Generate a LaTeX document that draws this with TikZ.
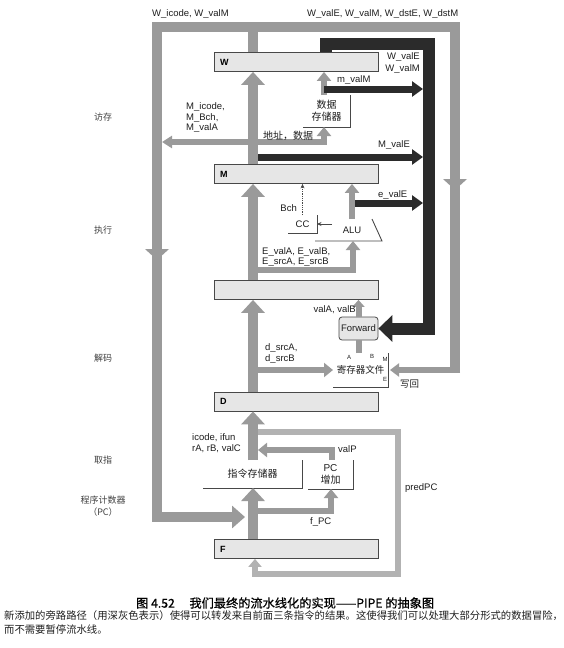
\documentclass[tikz,border=0pt]{standalone}
\usepackage{fontspec}
\setmainfont{Liberation Sans}
\newfontfamily\cjk{Noto Sans CJK SC}
\newfontfamily\cjkt[FakeBold=0.8]{Noto Sans CJK SC}
\usetikzlibrary{arrows.meta}
\definecolor{gA}{HTML}{9A9A9A}
\definecolor{gL}{HTML}{B2B2B2}
\definecolor{dk}{HTML}{2B2B2B}
\definecolor{bd}{HTML}{484848}
\definecolor{rf}{HTML}{E6E6E6}
\definecolor{tx}{HTML}{1E1E1E}
\begin{document}
\begin{tikzpicture}[x=1pt,y=-1pt,
 lbl/.style={font=\fontsize{9.5}{11}\selectfont, text=tx, inner sep=0pt},
 zh/.style={font=\cjk\fontsize{10}{12}\selectfont, text=tx, inner sep=0pt, align=center},
 side/.style={font=\cjk\fontsize{9}{11}\selectfont, text=tx!85, inner sep=0pt},
 tinyl/.style={font=\fontsize{6}{7}\selectfont, text=tx, inner sep=0pt},
 preg/.style={draw=bd, line width=0.8pt, fill=rf, minimum width=164pt, minimum height=19pt, text width=152pt, align=left, inner sep=0pt, font=\bfseries\fontsize{9}{10}\selectfont},
 unitbox/.style={inner sep=0pt, outer sep=0pt},
 lshape/.style={draw=bd, line width=0.9pt},
 gline/.style={draw=gA, line width=10pt},
 gbig/.style={draw=gA, line width=10pt, -{Triangle[width=23pt,length=13pt]}},
 gmid/.style={draw=gA, line width=6.5pt, -{Triangle[width=14pt,length=9pt]}},
 gsmall/.style={draw=gA, line width=6pt, -{Triangle[width=12pt,length=7pt]}},
 dkarrow/.style={draw=dk, line width=7pt, -{Triangle[width=15pt,length=11pt]}},
 thinarrow/.style={draw=bd, line width=0.8pt, -{Stealth[length=4.5pt,width=4pt]}},
]
\useasboundingbox (0,0) rectangle (564,648);

% pipeline registers
\node[preg] (W) at (296,62) {W};
\node[preg] (M) at (296,174) {M};
\node[preg] (E) at (296,290) {};
\node[preg] (D) at (296,401.5) {D};
\node[preg] (F) at (296,549) {F};

% units
\node[unitbox, zh, minimum width=47pt, minimum height=32pt] (dmem) at (326.5,111) {数据\\存储器};
\node[unitbox, lbl, minimum width=29pt, minimum height=18pt] (CC) at (302.5,224) {CC};
\node[unitbox, lbl, minimum width=67pt, minimum height=22pt] (alu) at (348.5,230) {\hspace{7pt}ALU};
\node[unitbox, zh, font=\cjk\fontsize{9.5}{11}\selectfont, minimum width=55pt, minimum height=34pt] (regfile) at (360.5,370) {寄存器文件};
\node[unitbox, zh, minimum width=99pt, minimum height=28pt] (imem) at (252.5,474) {指令存储器};
\node[unitbox, zh, minimum width=45pt, minimum height=29pt] (pcinc) at (330.5,474.5) {{\normalfont PC}\\增加};
\node[draw=bd, fill=rf, rounded corners=3pt, line width=0.8pt, minimum width=39pt, minimum height=23pt, inner sep=0pt, lbl] (Fwd) at (358.5,328.5) {Forward};

\draw[lshape] (dmem.north east) -- (dmem.south east) -- (dmem.south west);
\draw[lshape] (CC.north east) -- (CC.south east) -- (CC.south west);
\draw[lshape] (regfile.north east) -- (regfile.south east) -- (regfile.south west);
\draw[lshape] (imem.north east) -- (imem.south east) -- (imem.south west);
\draw[lshape] (pcinc.north east) -- (pcinc.south east) -- (pcinc.south west);
\draw[lshape] (alu.south west) -- (alu.south east) -- ([xshift=-10pt]alu.north east);

% coordinates
\coordinate (cx) at (253,0);
\coordinate (topL) at (157,27);
\coordinate (topJ) at (253,27);
\coordinate (topJb) at (248,27);
\coordinate (topR) at (455,27);
\coordinate (leftB) at (157,517);
\coordinate (pcsel) at (245,517);
\coordinate (wbV) at (455,373);
\coordinate (wbH) at (460,370);

% write-back / W loop
\draw[gbig, -{Triangle[width=22pt,length=13pt]}] (cx |- W.north) -- (topJ) -- (topL) -- (leftB) -- (pcsel);
\draw[gline] (topJb) -- (topR) -- (wbV);
\draw[draw=gA, line width=6pt, -{Triangle[width=13pt,length=9pt]}] (wbH) -- ([xshift=2pt]regfile.east);
\fill[gA] (145,249) -- (169,249) -- (157,260) -- cycle;
\fill[gA] (443,179) -- (467,179) -- (455,190) -- cycle;

% forwarding loop
\coordinate (dkL) at (326,44);
\coordinate (dkR) at (429,44);
\draw[draw=dk, line width=12pt, -{Triangle[width=26pt,length=14pt]}] (dkL |- W.north) -- (dkL) -- (dkR) -- (dkR |- Fwd.east) -- (Fwd.east);

% main stage arrows
\draw[gbig] (cx |- M.north) -- (cx |- W.south);
\draw[gbig] (cx |- E.north) -- (cx |- M.south);
\draw[gbig] (cx |- D.north) -- (cx |- E.south);
\draw[gbig] (cx |- imem.north) -- (cx |- D.south);
\draw[gbig] (cx |- F.north) -- (cx |- imem.south);

% memory stage
\coordinate (mA) at (253,142);
\coordinate (mL) at (162,142);
\coordinate (mD) at (324,142);
\draw[gmid, -{Triangle[width=12pt,length=10pt]}] (mA) -- (mL);
\draw[gmid] (mA) -- (mD) -- (mD |- dmem.south);
\draw[gmid] (mD |- dmem.north) -- (mD |- W.south);

% execute stage
\coordinate (eA) at (253,270);
\coordinate (eB) at (353,270);
\coordinate (aluo) at (352,0);
\draw[gmid] (eA) -- (eB) -- (eB |- alu.south);
\draw[gmid] (aluo |- alu.north) -- (aluo |- M.south);
\coordinate (ccin) at (332,224);
\draw[thinarrow] (ccin) -- (CC.east);
\draw[thinarrow, densely dotted] (CC.north) -- (CC.north |- M.south);

% dark bypass arrows
\coordinate (dkin) at (423,0);
\coordinate (mvm) at (324,89);
\coordinate (mve) at (258,157);
\coordinate (eve) at (355,203);
\draw[dkarrow] (mvm) -- (dkin |- mvm);
\draw[dkarrow] (mve) -- (dkin |- mve);
\draw[dkarrow] (eve) -- (dkin |- eve);

% decode stage
\coordinate (dS) at (253,370);
\draw[gmid] (dS) -- (regfile.west);
\draw[draw=gA, line width=6pt] (Fwd.south |- regfile.north) -- (Fwd.south);
\draw[gsmall] (Fwd.north) -- (Fwd.north |- E.south);

% fetch stage
\coordinate (vp) at (332,450);
\coordinate (vpe) at (258,450);
\draw[gmid] (vp |- pcinc.north) -- (vp) -- (vpe);
\coordinate (fp) at (253,511);
\coordinate (fpr) at (331,511);
\draw[gmid] (fp) -- (fpr) -- (fpr |- pcinc.south);
\coordinate (pp1) at (258,432);
\coordinate (pp2) at (398,432);
\coordinate (pp3) at (398,574);
\coordinate (pp4) at (255,574);
\draw[draw=gL, line width=6pt, -{Triangle[width=13pt,length=8pt]}] (pp1) -- (pp2) -- (pp3) -- (pp4) -- (pp4 |- F.south);

% labels
\node[lbl, anchor=west] (l1) at (152,14) {W\_icode, W\_valM};
\node[lbl, anchor=west] (l2) at (307,14) {W\_valE, W\_valM, W\_dstE, W\_dstM};
\node[lbl, anchor=east] (l3) at (420,57) {W\_valE};
\node[lbl, anchor=east] (l4) at (420,69) {W\_valM};
\node[lbl, anchor=west] (l5) at (337,80) {m\_valM};
\node[lbl, anchor=west] (l6) at (186,107) {M\_icode,};
\node[lbl, anchor=west] (l7) at (186,118) {M\_Bch,};
\node[lbl, anchor=west] (l8) at (186,128) {M\_valA};
\node[zh, anchor=west] (l9) at (263,136) {地址，数据};
\node[lbl, anchor=west] (l10) at (378,145) {M\_valE};
\node[lbl, anchor=west] (l11) at (378,195) {e\_valE};
\node[lbl, anchor=east] (l12) at (297,208) {Bch};
\node[lbl, anchor=west] (l13) at (262,252) {E\_valA, E\_valB,};
\node[lbl, anchor=west] (l14) at (262,262) {E\_srcA, E\_srcB};
\node[lbl, anchor=east] (l15) at (356,310) {valA, valB};
\node[lbl, anchor=west] (l16) at (265,348) {d\_srcA,};
\node[lbl, anchor=west] (l17) at (265,359) {d\_srcB};
\node[tinyl] (pA) at (349,357) {A};
\node[tinyl] (pB) at (372,356) {B};
\node[tinyl] (pM) at (385,359) {M};
\node[tinyl] (pE) at (385,379) {E};
\node[zh, font=\cjk\fontsize{9.5}{11}\selectfont, anchor=west] (l18) at (400,384) {写回};
\node[lbl, anchor=west] (l19) at (192,438) {icode, ifun};
\node[lbl, anchor=west] (l20) at (192,449) {rA, rB, valC};
\node[lbl, anchor=west] (l21) at (338,449) {valP};
\node[lbl, anchor=west] (l22) at (405,488) {predPC};
\node[lbl, anchor=west] (l23) at (310,522) {f\_PC};

% stage names
\node[side] (s1) at (103,117) {访存};
\node[side] (s2) at (103,230) {执行};
\node[side] (s3) at (103,358) {解码};
\node[side] (s4) at (103,460) {取指};
\node[side] (s5) at (103,500) {程序计数器};
\node[side] (s6) at (103,512) {（PC）};

% caption
\node[anchor=west, inner sep=0pt, font=\cjkt\fontsize{12.2}{14}\selectfont] (cap) at (136,603) {图 4.52\hspace{1.2em}我们最终的流水线化的实现——PIPE 的抽象图};
\node[anchor=west, inner sep=0pt, font=\cjk\fontsize{10.35}{12}\selectfont, text=tx] (cap2) at (4,616) {新添加的旁路路径（用深灰色表示）使得可以转发来自前面三条指令的结果。这使得我们可以处理大部分形式的数据冒险，};
\node[anchor=west, inner sep=0pt, font=\cjk\fontsize{10.35}{12}\selectfont, text=tx] (cap3) at (4,630) {而不需要暂停流水线。};
\end{tikzpicture}
\end{document}
